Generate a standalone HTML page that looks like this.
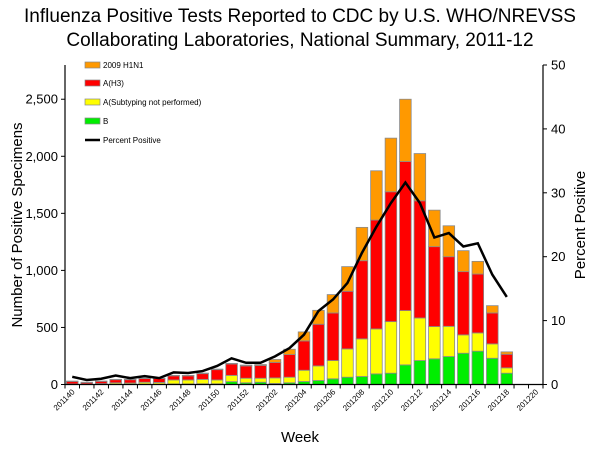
<!DOCTYPE html>
<html><head><meta charset="utf-8"><style>
body{margin:0;background:#fff;width:600px;height:450px;overflow:hidden}
text{font-family:"Liberation Sans",Arial,sans-serif}
</style></head><body>
<svg id="chart" width="600" height="450" xmlns="http://www.w3.org/2000/svg">
<text x="300" y="22" text-anchor="middle" font-size="19">Influenza Positive Tests Reported to CDC by U.S. WHO/NREVSS</text>
<text x="300" y="46" text-anchor="middle" font-size="19">Collaborating Laboratories, National Summary, 2011-12</text>
<text transform="translate(22,225) rotate(-90)" text-anchor="middle" font-size="15">Number of Positive Specimens</text>
<text transform="translate(585,225) rotate(-90)" text-anchor="middle" font-size="15">Percent Positive</text>
<text x="300" y="442" text-anchor="middle" font-size="15">Week</text>
<g id="bars"></g><g id="axes"></g><g id="line"></g>
<g font-size="8">
<rect x="85" y="62" width="15" height="6" fill="#ff9900" stroke="#888" stroke-width="0.7"/><text x="103" y="68">2009 H1N1</text>
<rect x="85" y="80" width="15" height="6" fill="#ff0000" stroke="#888" stroke-width="0.7"/><text x="103" y="86">A(H3)</text>
<rect x="85" y="99" width="15" height="6" fill="#ffff00" stroke="#888" stroke-width="0.7"/><text x="103" y="105">A(Subtyping not performed)</text>
<rect x="85" y="118" width="15" height="6" fill="#00ee00" stroke="#888" stroke-width="0.7"/><text x="103" y="124">B</text>
<line x1="85" y1="140" x2="100" y2="140" stroke="#000" stroke-width="2.5"/><text x="103" y="143">Percent Positive</text>
</g>
</svg>
<script>
const weeks=["201140","201141","201142","201143","201144","201145","201146","201147","201148","201149","201150","201151","201152","201201","201202","201203","201204","201205","201206","201207","201208","201209","201210","201211","201212","201213","201214","201215","201216","201217","201218","201219","201220"];
const fluB=[2,2,2,3,3,4,4,5,5,6,6,25,15,20,9,15,26,35,50,64,70,93,99,172,210,225,245,274,292,230,99];
const fluAUnsub=[3,3,6,12,10,16,14,35,35,39,34,55,40,35,49,49,99,128,160,248,330,394,452,476,373,283,265,161,160,126,47];
const fluH3=[22,13,20,27,29,32,34,36,36,50,90,100,108,112,135,198,257,365,417,505,685,954,1138,1306,1027,700,610,554,516,271,119];
const fluH1N1=[3,2,2,3,3,3,3,4,4,5,5,5,7,8,26,47,79,122,161,216,292,432,470,546,414,320,271,184,111,64,21];
const pctPositive=[1.2,0.7,0.9,1.4,1.0,1.3,1.0,1.9,1.8,2.1,2.9,4.1,3.4,3.4,4.4,5.7,7.8,11.5,13.3,15.9,20.6,24.7,28.4,31.6,28.4,23.0,23.7,21.6,22.1,17.2,13.7];
const leftTicks=[0,500,1000,1500,2000,2500];
const leftTickLabels=["0","500","1,000","1,500","2,000","2,500"];
const rightTicks=[0,10,20,30,40,50];

const NS="http://www.w3.org/2000/svg";
const X0=65,X1=543,Y0=384.5,Y1=65,LMAX=2800,RMAX=50;
const step=(X1-X0)/weeks.length;
const xc=i=>X0+step*(i+0.5);
const yl=v=>Y0-(v/LMAX)*(Y0-Y1);
const yr=v=>Y0-(v/RMAX)*(Y0-Y1);
function mk(tag,attrs,parent){const e=document.createElementNS(NS,tag);for(const k in attrs)e.setAttribute(k,attrs[k]);parent.appendChild(e);return e;}
const bars=document.getElementById('bars'),axes=document.getElementById('axes'),lineG=document.getElementById('line');
const series=[[fluB,'#00ee00','b'],[fluAUnsub,'#ffff00','a-unsubtyped'],[fluH3,'#ff0000','h3'],[fluH1N1,'#ff9900','h1n1']];
const bw=step*0.8;
for(let i=0;i<fluB.length;i++){
  let cum=0;
  series.forEach(s=>{
    const v=s[0][i];
    const r=mk('rect',{x:xc(i)-bw/2,y:yl(cum+v),width:bw,height:yl(cum)-yl(cum+v),fill:s[1],stroke:'#8a8a8a','stroke-width':0.8},bars);
    
    
    cum+=v;
  });
}
// axes
let a=mk('line',{x1:X0,y1:Y1,x2:X0,y2:Y0,stroke:'#000','stroke-width':1.2},axes);

a=mk('line',{x1:X1,y1:Y1,x2:X1,y2:Y0,stroke:'#000','stroke-width':1.2},axes);

a=mk('line',{x1:X0,y1:Y0,x2:X1,y2:Y0,stroke:'#000','stroke-width':1.2},axes);

leftTicks.forEach((v,k)=>{
  mk('line',{x1:X0-4,y1:yl(v),x2:X0,y2:yl(v),stroke:'#000'},axes);
  const t=mk('text',{x:X0-7,y:yl(v)+4.5,'text-anchor':'end','font-size':13},axes);
  
  t.textContent=leftTickLabels[k];
});
rightTicks.forEach(v=>{
  mk('line',{x1:X1,y1:yr(v),x2:X1+4,y2:yr(v),stroke:'#000'},axes);
  const t=mk('text',{x:X1+8,y:yr(v)+4.5,'font-size':13},axes);
  
  t.textContent=v;
});
for(let i=0;i<=weeks.length;i++){mk('line',{x1:X0+step*i,y1:Y0,x2:X0+step*i,y2:Y0+4,stroke:'#000'},axes);}
weeks.forEach((w,i)=>{
  if(i%2)return;
  const t=mk('text',{transform:`translate(${xc(i)+3},${Y0+8}) rotate(-45)`,'text-anchor':'end','font-size':8},axes);
  
  t.textContent=w;
});
const pts=pctPositive.map((p,i)=>xc(i)+','+yr(p)).join(' ');
const pl=mk('polyline',{points:pts,fill:'none',stroke:'#000','stroke-width':2.5,'stroke-linejoin':'miter'},lineG);

</script>
</body></html>
